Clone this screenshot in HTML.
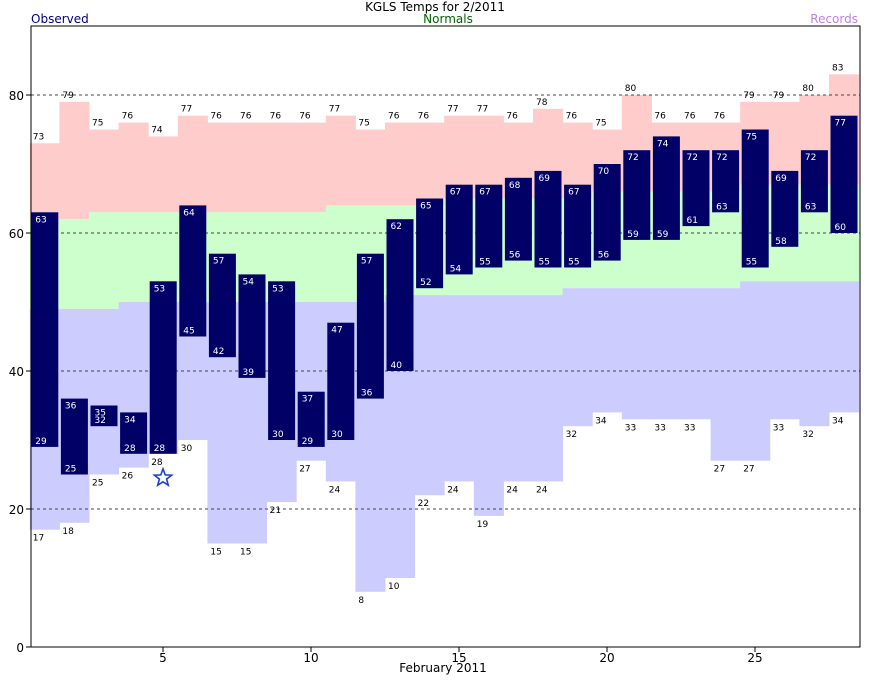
<!DOCTYPE html>
<html><head><meta charset="utf-8"><style>
body{margin:0;background:#fff;}
svg text{font-family:"DejaVu Sans","Liberation Sans",sans-serif;}
</style></head><body>
<svg id="chart" width="870" height="676" xmlns="http://www.w3.org/2000/svg">
<text x="435" y="11" font-size="12" text-anchor="middle" fill="#000">KGLS Temps for 2/2011</text>
<text x="31" y="23" font-size="12" fill="#000080">Observed</text>
<text x="448" y="23" font-size="12" text-anchor="middle" fill="#006400">Normals</text>
<text x="858" y="23" font-size="12" text-anchor="end" fill="#c080e0">Records</text>
<g id="marks"></g>
<rect x="31" y="26" width="829" height="621" fill="none" stroke="#000" stroke-width="1"/>
<text x="443" y="672" font-size="12" text-anchor="middle" fill="#000">February 2011</text>
</svg>
<script>
const days=[1,2,3,4,5,6,7,8,9,10,11,12,13,14,15,16,17,18,19,20,21,22,23,24,25,26,27,28];
const recHigh=[73,79,75,76,74,77,76,76,76,76,77,75,76,76,77,77,76,78,76,75,80,76,76,76,79,79,80,83];
const recLow=[17,18,25,26,28,30,15,15,21,27,24,8,10,22,24,19,24,24,32,34,33,33,33,27,27,33,32,34];
const normHigh=[62,62,63,63,63,63,63,63,63,63,64,64,64,64,65,65,65,65,65,66,66,66,66,66,67,67,67,67];
const normLow=[49,49,49,50,50,50,50,50,50,50,50,50,51,51,51,51,51,51,52,52,52,52,52,52,53,53,53,53];
const obsHigh=[63,36,35,34,53,64,57,54,53,37,47,57,62,65,67,67,68,69,67,70,72,74,72,72,75,69,72,77];
const obsLow=[29,25,32,28,28,45,42,39,30,29,30,36,40,52,54,55,56,55,55,56,59,59,61,63,55,58,63,60];
const yTicks=[0,20,40,60,80];
const xTicks=[5,10,15,20,25];
const starDay=5, starVal=24.5;

const NS="http://www.w3.org/2000/svg";
const svg=document.getElementById('chart');
const g=document.getElementById('marks');
const yS=v=>647-6.9*v;
const dw=29.6;
const xStart=d=>163+(d-5)*dw-dw/2;
const xC=d=>163+(d-5)*dw;
function mk(tag,attrs,parent){const e=document.createElementNS(NS,tag);for(const k in attrs)e.setAttribute(k,attrs[k]);(parent||g).appendChild(e);return e;}
function txt(x,y,s,fill,anchor,size){const t=mk('text',{x:x,y:y,'font-size':size||9,fill:fill,'text-anchor':anchor||'start'});t.textContent=s;return t;}

days.forEach((d,i)=>{
  const x0=xStart(d), w=dw+0.5;
  let r=mk('rect',{x:x0,y:yS(recHigh[i]),width:w,height:yS(normHigh[i])-yS(recHigh[i]),fill:'#ffcccc'});
  
  
  r=mk('rect',{x:x0,y:yS(normHigh[i]),width:w,height:yS(normLow[i])-yS(normHigh[i]),fill:'#ccffcc'});
  
  
  r=mk('rect',{x:x0,y:yS(normLow[i]),width:w,height:yS(recLow[i])-yS(normLow[i]),fill:'#ccccff'});
  
  
});
yTicks.forEach(v=>{
  if(v>0){const l=mk('line',{x1:31,x2:860,y1:yS(v),y2:yS(v),stroke:'#444','stroke-dasharray':'3,3','stroke-width':1});
  
  }
  const t=txt(24,yS(v)+5,String(v),'#000','end',12);
  
  
  const tk=mk('line',{x1:26,x2:31,y1:yS(v),y2:yS(v),stroke:'#000'});
  
  
});
xTicks.forEach(d=>{
  const t=txt(xC(d),662,String(d),'#000','middle',12);
  
  
  const tk=mk('line',{x1:xC(d),x2:xC(d),y1:647,y2:652,stroke:'#000'});
  
  
});
days.forEach((d,i)=>{
  const x0=xStart(d)+1.5;
  const b=mk('rect',{x:x0,y:yS(obsHigh[i]),width:27,height:yS(obsLow[i])-yS(obsHigh[i]),fill:'#000066'});
  
  
  let t=txt(x0+4,yS(obsHigh[i])+10,String(obsHigh[i]),'#ffffff');
  
  
  t=txt(x0+4,yS(obsLow[i])-3,String(obsLow[i]),'#ffffff');
  
  
  t=txt(xStart(d)+3,yS(recHigh[i])-4,String(recHigh[i]),'#000');
  
  
  t=txt(xStart(d)+3,yS(recLow[i])+11,String(recLow[i]),'#000');
  
  
});
(function(){
  const cx=xC(starDay), cy=yS(starVal), R=9, r=3.8;
  let pts=[];
  for(let k=0;k<10;k++){const a=-Math.PI/2+k*Math.PI/5;const rr=k%2?r:R;pts.push((cx+rr*Math.cos(a)).toFixed(1)+','+(cy+rr*Math.sin(a)).toFixed(1));}
  const s=mk('polygon',{points:pts.join(' '),fill:'none',stroke:'#1a3fd9','stroke-width':1.6});
  
  
})();
</script>
</body></html>
